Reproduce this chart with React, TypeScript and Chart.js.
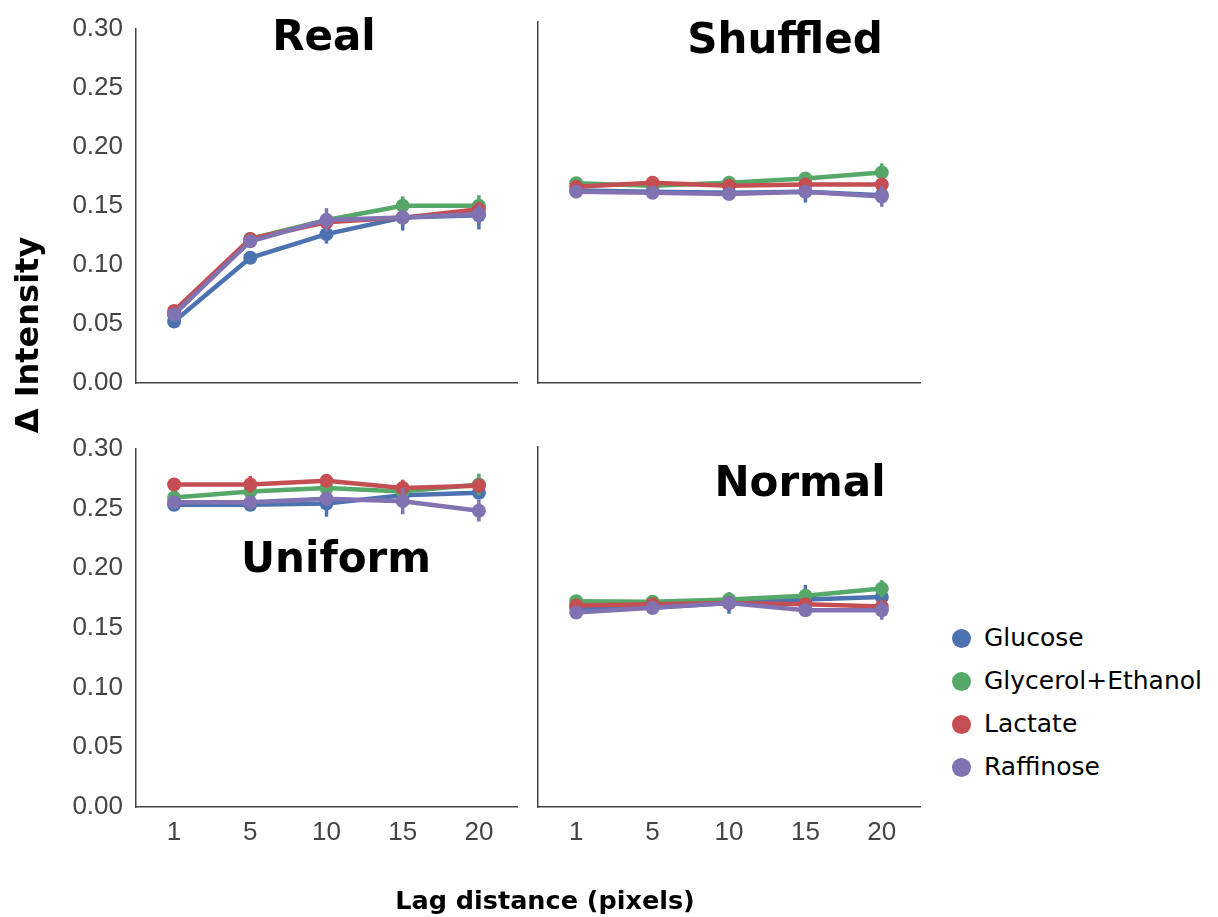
import React, { useEffect, useRef } from 'react';
import { Chart, registerables } from 'chart.js';

Chart.register(...registerables);

const lags = ['1', '5', '10', '15', '20'];
const seriesNames = ['Glucose', 'Glycerol+Ethanol', 'Lactate', 'Raffinose'];
const seriesColors = ['#4C72B0', '#55A868', '#C44E52', '#8172B2'];

// Real
const realGlucose = [0.052, 0.106, 0.126, 0.140, 0.142];
const realGlycerol = [0.058, 0.122, 0.138, 0.150, 0.150];
const realLactate = [0.061, 0.122, 0.136, 0.140, 0.147];
const realRaffinose = [0.058, 0.120, 0.138, 0.140, 0.143];
const realGlucoseErr = [0.003, 0.004, 0.008, 0.011, 0.012];
const realGlycerolErr = [0.003, 0.004, 0.005, 0.008, 0.009];
const realLactateErr = [0.003, 0.004, 0.005, 0.005, 0.006];
const realRaffinoseErr = [0.003, 0.004, 0.010, 0.006, 0.008];

// Shuffled
const shufGlucose = [0.160, 0.159, 0.158, 0.159, 0.156];
const shufGlycerol = [0.166, 0.164, 0.1665, 0.170, 0.175];
const shufLactate = [0.163, 0.1665, 0.164, 0.165, 0.165];
const shufRaffinose = [0.159, 0.158, 0.157, 0.159, 0.155];
const shufGlucoseErr = [0.003, 0.003, 0.004, 0.009, 0.006];
const shufGlycerolErr = [0.003, 0.003, 0.004, 0.004, 0.0075];
const shufLactateErr = [0.003, 0.003, 0.003, 0.004, 0.004];
const shufRaffinoseErr = [0.003, 0.003, 0.004, 0.005, 0.0085];

// Uniform
const unifGlucose = [0.253, 0.253, 0.254, 0.261, 0.263];
const unifGlycerol = [0.259, 0.264, 0.267, 0.264, 0.270];
const unifLactate = [0.270, 0.270, 0.273, 0.267, 0.269];
const unifRaffinose = [0.255, 0.255, 0.258, 0.256, 0.248];
const unifGlucoseErr = [0.004, 0.004, 0.011, 0.006, 0.005];
const unifGlycerolErr = [0.003, 0.004, 0.004, 0.004, 0.009];
const unifLactateErr = [0.003, 0.007, 0.005, 0.007, 0.006];
const unifRaffinoseErr = [0.003, 0.004, 0.006, 0.011, 0.009];

// Normal
const normGlucose = [0.166, 0.166, 0.170, 0.173, 0.175];
const normGlycerol = [0.1715, 0.171, 0.173, 0.176, 0.182];
const normLactate = [0.168, 0.169, 0.170, 0.169, 0.167];
const normRaffinose = [0.162, 0.166, 0.170, 0.164, 0.164];
const normGlucoseErr = [0.003, 0.003, 0.009, 0.012, 0.006];
const normGlycerolErr = [0.003, 0.003, 0.004, 0.004, 0.007];
const normLactateErr = [0.003, 0.003, 0.004, 0.005, 0.005];
const normRaffinoseErr = [0.003, 0.003, 0.004, 0.005, 0.008];

const yMin = 0;
const yMax = 0.3;
const yStep = 0.05;

const errorBarPlugin = {
  id: 'errbars',
  afterDatasetDraw(chart: any, args: any) {
    const ds: any = chart.data.datasets[args.index];
    const errs = ds.errors;
    if (!errs) return;
    const y = chart.scales.y;
    const ctx = chart.ctx;
    ctx.save();
    ctx.strokeStyle = ds.borderColor;
    ctx.lineWidth = 3.5;
    args.meta.data.forEach((pt: any, i: number) => {
      const v = ds.data[i];
      const e = errs[i];
      ctx.beginPath();
      ctx.moveTo(pt.x, y.getPixelForValue(v - e));
      ctx.lineTo(pt.x, y.getPixelForValue(v + e));
      ctx.stroke();
    });
    ctx.restore();
  },
};

type PanelProps = {
  left: number; top: number; width: number; height: number;
  padTop: number; padRight: number; yWidth: number; xHeight: number;
  showY: boolean; showX: boolean;
  values: number[][]; errors: number[][];
};

function Panel(p: PanelProps) {
  const ref = useRef<HTMLCanvasElement | null>(null);
  useEffect(() => {
    if (!ref.current) return;
    const datasets = p.values.map((vals, i) => ({
      label: seriesNames[i],
      data: vals,
      errors: p.errors[i],
      borderColor: seriesColors[i],
      backgroundColor: seriesColors[i],
      borderWidth: 4.5,
      pointRadius: 7,
      pointBorderWidth: 0,
      pointHoverRadius: 7,
      fill: false,
      tension: 0,
      order: seriesNames.length - i,
    }));
    const tickFont = { family: "'Liberation Sans', Arial, sans-serif", size: 26 };
    const chart = new Chart(ref.current, {
      type: 'line',
      data: { labels: lags, datasets: datasets as any },
      options: {
        animation: false,
        responsive: false,
        maintainAspectRatio: false,
        layout: { padding: { top: p.padTop, right: p.padRight, left: 0, bottom: 0 } },
        plugins: { legend: { display: false }, tooltip: { enabled: false } },
        scales: {
          x: {
            type: 'category',
            offset: true,
            grid: { display: false, drawTicks: false },
            border: { display: true, color: '#444', width: 1.5 },
            ticks: { display: p.showX, color: '#444', font: tickFont, padding: 10, autoSkip: false, maxRotation: 0 },
            afterFit: (s: any) => { s.height = p.xHeight; },
          },
          y: {
            min: yMin,
            max: yMax,
            grid: { display: false, drawTicks: false },
            border: { display: true, color: '#444', width: 1.5 },
            ticks: {
              display: p.showY,
              stepSize: yStep,
              color: '#444',
              font: tickFont,
              padding: 13,
              callback: (v: any) => Number(v).toFixed(2),
            },
            afterFit: (s: any) => { s.width = p.yWidth; },
          },
        },
      },
      plugins: [errorBarPlugin],
    });
    return () => chart.destroy();
  }, []);
  return (
    <canvas
      ref={ref}
      width={p.width}
      height={p.height}
      style={{ position: 'absolute', left: p.left, top: p.top, width: p.width, height: p.height }}
    />
  );
}

const titleStyle: React.CSSProperties = {
  position: 'absolute',
  width: 300,
  textAlign: 'center',
  fontFamily: "'DejaVu Sans', sans-serif",
  fontWeight: 'bold',
  fontSize: 42,
  lineHeight: '42px',
  color: '#000',
  whiteSpace: 'nowrap',
};

export default function App() {
  const legendRows = [638, 681, 724, 767];
  return (
    <div style={{ position: 'absolute', left: 0, top: 0, width: 1218, height: 917, background: '#fff', overflow: 'hidden' }}>
      <Panel left={0} top={0} width={525} height={420} padTop={22} padRight={8} yWidth={136} xHeight={37}
        showY={true} showX={false}
        values={[realGlucose, realGlycerol, realLactate, realRaffinose]}
        errors={[realGlucoseErr, realGlycerolErr, realLactateErr, realRaffinoseErr]} />
      <Panel left={525} top={0} width={420} height={420} padTop={22} padRight={25} yWidth={13} xHeight={37}
        showY={false} showX={false}
        values={[shufGlucose, shufGlycerol, shufLactate, shufRaffinose]}
        errors={[shufGlucoseErr, shufGlycerolErr, shufLactateErr, shufRaffinoseErr]} />
      <Panel left={0} top={420} width={525} height={497} padTop={27} padRight={8} yWidth={136} xHeight={110}
        showY={true} showX={true}
        values={[unifGlucose, unifGlycerol, unifLactate, unifRaffinose]}
        errors={[unifGlucoseErr, unifGlycerolErr, unifLactateErr, unifRaffinoseErr]} />
      <Panel left={525} top={420} width={420} height={497} padTop={27} padRight={25} yWidth={13} xHeight={110}
        showY={false} showX={true}
        values={[normGlucose, normGlycerol, normLactate, normRaffinose]}
        errors={[normGlucoseErr, normGlycerolErr, normLactateErr, normRaffinoseErr]} />

      <div style={{ ...titleStyle, left: 324 - 150, top: 15 }}>Real</div>
      <div style={{ ...titleStyle, left: 785 - 150, top: 18 }}>Shuffled</div>
      <div style={{ ...titleStyle, left: 336 - 150, top: 537 }}>Uniform</div>
      <div style={{ ...titleStyle, left: 800 - 150, top: 461 }}>Normal</div>

      <div style={{
        position: 'absolute', left: 27 - 150, top: 335 - 16, width: 300, height: 32,
        textAlign: 'center', fontFamily: "'DejaVu Sans', sans-serif", fontWeight: 'bold',
        fontSize: 32, lineHeight: '32px', transform: 'rotate(-90deg)', whiteSpace: 'nowrap', color: '#000',
      }}>Δ Intensity</div>

      <div style={{
        position: 'absolute', left: 545 - 200, top: 887, width: 400, textAlign: 'center',
        fontFamily: "'DejaVu Sans', sans-serif", fontWeight: 'bold', fontSize: 25.5, lineHeight: '26px',
        whiteSpace: 'nowrap', color: '#000',
      }}>Lag distance (pixels)</div>

      {seriesNames.map((name, i) => (
        <React.Fragment key={name}>
          <div style={{
            position: 'absolute', left: 961.5 - 9.5, top: legendRows[i] - 9.5, width: 19, height: 19,
            borderRadius: '50%', background: seriesColors[i],
          }} />
          <div style={{
            position: 'absolute', left: 984, top: legendRows[i] - 13, fontFamily: "'DejaVu Sans', sans-serif",
            fontSize: 25, lineHeight: '25px', whiteSpace: 'nowrap', color: '#000',
          }}>{name}</div>
        </React.Fragment>
      ))}
    </div>
  );
}
